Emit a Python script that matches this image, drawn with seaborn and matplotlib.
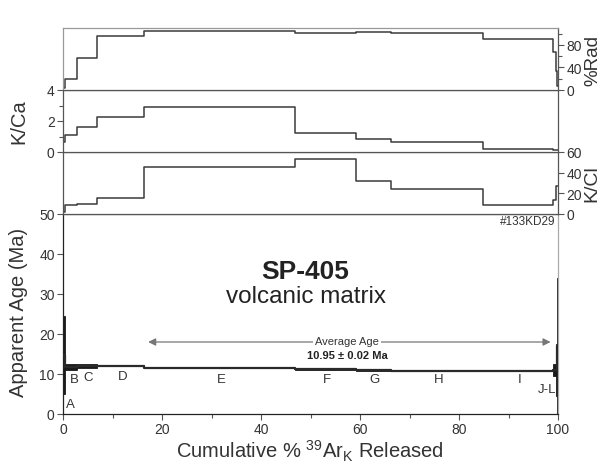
import numpy as np
import matplotlib
matplotlib.use("Agg")
import matplotlib.pyplot as plt
from matplotlib.ticker import MultipleLocator
import seaborn as sns

# Step-heating data, sample SP-405 (volcanic matrix)
steps = ["A", "B", "C", "D", "E", "F", "G", "H", "I", "J", "K", "L"]
cum_39ar = [0.0, 0.5, 2.76, 6.93, 16.4, 46.9, 59.1, 66.3, 84.9, 99.0, 99.6, 99.85, 100.0]
age_ma = [14.8, 11.8, 12.05, 12.1, 11.5, 11.15, 10.95, 10.75, 10.75, 11.05, 11.0, 17.0]
age_err = [9.8, 0.7, 0.45, 0.15, 0.1, 0.1, 0.1, 0.1, 0.1, 1.45, 6.5, 17.0]
pct_rad = [3, 20, 57, 95, 105, 100.5, 103, 102, 91, 68, 34, 7]
k_ca = [0.62, 1.07, 1.6, 2.25, 2.93, 1.24, 0.86, 0.64, 0.17, 0.12, 0.1, 0.1]
k_cl = [2, 8.8, 10, 15.6, 45.5, 53.6, 31.5, 24.4, 8.8, 14, 27, 27]

plateau_age = 10.95
plateau_err = 0.02
plateau_range = [17.2, 98.5]

label_x = [1.4, 2.2, 5.05, 12.1, 32.0, 53.3, 63.0, 75.8, 92.3, 99.6]
label_y = [2.5, 8.75, 9.25, 9.5, 8.75, 8.75, 8.75, 8.75, 8.75, 6.25]
label_txt = ["A", "B", "C", "D", "E", "F", "G", "H", "I", "J-L"]

sns.set_style("ticks")
plt.rcParams["font.family"] = ["Liberation Sans", "DejaVu Sans"]
plt.rcParams["mathtext.fontset"] = "custom"
plt.rcParams["mathtext.rm"] = "Liberation Sans"
plt.rcParams["mathtext.it"] = "Liberation Sans:italic"
plt.rcParams["mathtext.bf"] = "Liberation Sans:bold"

TXT = "#333333"
LINE = "#3a3a3a"
SPINE = "#555555"

FW, FH = 608, 464
fig = plt.figure(figsize=(FW / 100, FH / 100), dpi=100)
L, W = 63 / FW, 495 / FW
def rect(top_px, bot_px):
    return [L, 1 - bot_px / FH, W, (bot_px - top_px) / FH]

ax_age = fig.add_axes(rect(215, 415))
ax_cl = fig.add_axes(rect(153, 215), sharex=ax_age)
ax_ca = fig.add_axes(rect(91, 153), sharex=ax_age)
ax_rad = fig.add_axes(rect(29, 91), sharex=ax_age)

def step_y(vals):
    return list(vals) + [vals[-1]]

def style(ax):
    for s in ax.spines.values():
        s.set_visible(True)
        s.set_color(SPINE)
        s.set_linewidth(0.9)
    ax.tick_params(colors=SPINE, labelcolor=TXT, labelsize=10, length=4, width=0.8, pad=2)
    ax.tick_params(which="minor", colors=SPINE, length=3, width=0.8)

def fig_label(x_px, y_px, text, **kw):
    fig.text(x_px / FW, 1 - y_px / FH, text, ha="center", va="center", color=TXT, **kw)

# --- age spectrum ---
widths = np.diff(cum_39ar)
bottoms = np.array(age_ma) - np.array(age_err)
ax_age.bar(cum_39ar[:-1], 2 * np.array(age_err), width=widths, bottom=bottoms,
           align="edge", color="#1a1a1a", linewidth=0.6, edgecolor="#1a1a1a", zorder=2)
sns.lineplot(x=cum_39ar, y=step_y(age_ma), ax=ax_age, drawstyle="steps-post",
             estimator=None, sort=False, color="#2a2a2a", linewidth=1.6, zorder=3)
ax_age.set_xlim(0, 100)
ax_age.set_ylim(0, 50)
ax_age.xaxis.set_major_locator(MultipleLocator(20))
ax_age.xaxis.set_minor_locator(MultipleLocator(10))
ax_age.yaxis.set_major_locator(MultipleLocator(10))
style(ax_age)
ax_age.spines["bottom"].set_color("#222222")
ax_age.spines["left"].set_color("#222222")
ax_age.spines["right"].set_color("#aaaaaa")
ax_age.set_xlabel("")
ax_age.set_ylabel("")
fig_label(310, 451, r"Cumulative % $^{39}$Ar$_{\mathrm{K}}$ Released", fontsize=14.5)
fig_label(19, 312, "Apparent Age (Ma)", fontsize=14.5, rotation=90)

for x, y, t in zip(label_x, label_y, label_txt):
    ax_age.text(x, y, t, fontsize=9.5, color=TXT,
                ha="right" if t == "J-L" else "center", va="center")

ax_age.annotate("", xy=(plateau_range[0], 18), xytext=(plateau_range[1], 18),
                arrowprops=dict(arrowstyle="<|-|>", color="#777777", lw=0.9,
                                mutation_scale=11, shrinkA=0, shrinkB=0))
ax_age.text(57.4, 18.3, "Average Age", fontsize=8, color=TXT, ha="center", va="center",
            bbox=dict(facecolor="white", edgecolor="none", pad=1.5))
ax_age.text(57.4, 14.7, f"{plateau_age:.2f} \u00b1 {plateau_err:.2f} Ma", fontsize=8,
            fontweight="bold", color="#222222", ha="center", va="center")
ax_age.text(49.0, 35.7, "SP-405", fontsize=19, fontweight="bold", color="#222222",
            ha="center", va="center")
ax_age.text(49.0, 29.5, "volcanic matrix", fontsize=17.5, color="#222222",
            ha="center", va="center")
ax_age.text(99.4, 48.2, "#133KD29", fontsize=8.5, color=TXT, ha="right", va="center")

# --- K/Cl ---
sns.lineplot(x=cum_39ar, y=step_y(k_cl), ax=ax_cl, drawstyle="steps-post",
             estimator=None, sort=False, color=LINE, linewidth=1.1)
ax_cl.set_ylim(0, 60)
ax_cl.yaxis.tick_right()
ax_cl.yaxis.set_major_locator(MultipleLocator(20))
style(ax_cl)
ax_cl.set_ylabel("")
fig_label(592, 184, "K/Cl", fontsize=14, rotation=90)

# --- K/Ca ---
sns.lineplot(x=cum_39ar, y=step_y(k_ca), ax=ax_ca, drawstyle="steps-post",
             estimator=None, sort=False, color=LINE, linewidth=1.1)
ax_ca.set_ylim(0, 4)
ax_ca.yaxis.set_major_locator(MultipleLocator(2))
ax_ca.yaxis.set_minor_locator(MultipleLocator(1))
style(ax_ca)
ax_ca.set_ylabel("")
fig_label(19, 122, "K/Ca", fontsize=14.5, rotation=90)

# --- %Rad ---
sns.lineplot(x=cum_39ar, y=step_y(pct_rad), ax=ax_rad, drawstyle="steps-post",
             estimator=None, sort=False, color=LINE, linewidth=1.1)
ax_rad.set_ylim(0, 110)
ax_rad.yaxis.tick_right()
ax_rad.yaxis.set_major_locator(MultipleLocator(40))
ax_rad.yaxis.set_minor_locator(MultipleLocator(20))
style(ax_rad)
ax_rad.spines["top"].set_color("#999999")
ax_rad.spines["left"].set_color("#999999")
ax_rad.set_ylabel("")
fig_label(593, 60, "%Rad", fontsize=13.5, rotation=90)
ax_rad.text(100.4, 1.09, "Oficina Regional Durango", transform=ax_rad.get_yaxis_transform(),
            fontsize=11, color="#666666", ha="right", va="bottom")

for ax in (ax_cl, ax_ca, ax_rad):
    ax.tick_params(axis="x", which="both", bottom=False, labelbottom=False)
    ax.set_xlabel("")

fig.savefig("out.png", dpi=100)
